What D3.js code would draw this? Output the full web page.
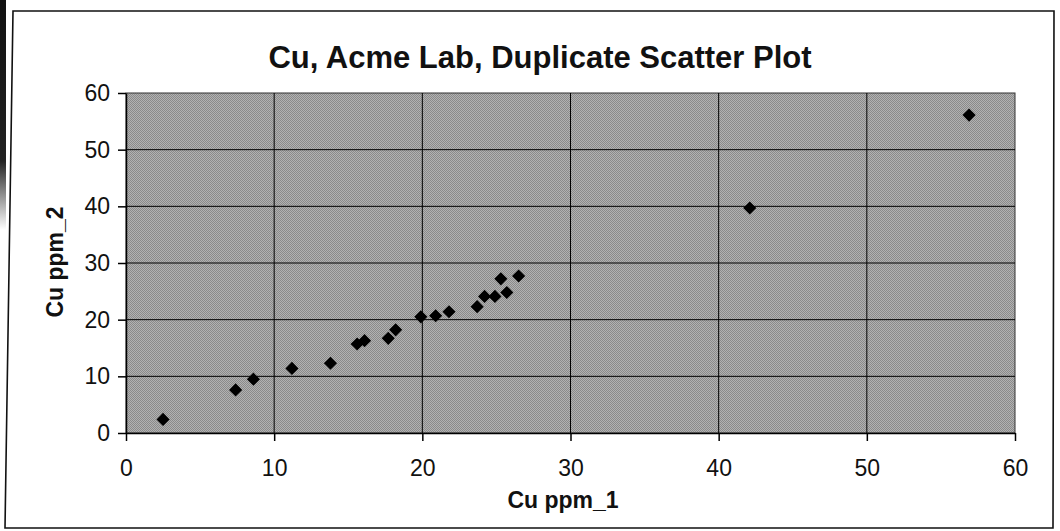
<!DOCTYPE html>
<html><head><meta charset="utf-8">
<script src="https://cdn.jsdelivr.net/npm/d3@7"></script>
<style>html,body{margin:0;padding:0;background:#fff;}svg{display:block;}</style>
</head><body>
<script>
const title = "Cu, Acme Lab, Duplicate Scatter Plot";
const xTitle = "Cu ppm_1";
const yTitle = "Cu ppm_2";
const xTicks = [0, 10, 20, 30, 40, 50, 60];
const yTicks = [0, 10, 20, 30, 40, 50, 60];
const cuPpm1 = [2.5, 7.4, 8.6, 11.2, 13.8, 15.6, 16.1, 17.7, 18.2, 19.9, 20.9, 21.8, 23.7, 24.2, 24.9, 25.7, 25.3, 26.5, 42.1, 56.9];
const cuPpm2 = [2.4, 7.6, 9.5, 11.4, 12.3, 15.7, 16.3, 16.7, 18.2, 20.5, 20.7, 21.4, 22.3, 24.1, 24.1, 24.8, 27.2, 27.7, 39.7, 56.1];

const W = 1060, H = 531;
const L = 126, R = 1015, T = 93, B = 433;
const svg = d3.select("body").append("svg").attr("width", W).attr("height", H);
const font = "'Liberation Sans', Arial, sans-serif";
const defs = svg.append("defs");

// scan artifact: dark bar on left edge
const grad = defs.append("linearGradient").attr("id","bar").attr("x1",0).attr("x2",0).attr("y1",0).attr("y2",1);
grad.append("stop").attr("offset","0%").attr("stop-color","#111");
grad.append("stop").attr("offset","70%").attr("stop-color","#222");
grad.append("stop").attr("offset","100%").attr("stop-color","#fff");
svg.append("rect").attr("x",0).attr("y",0).attr("width",6).attr("height",230).attr("fill","url(#bar)");

// halftone pattern for plot area
const pat = defs.append("pattern").attr("id","dots").attr("width",2).attr("height",2).attr("patternUnits","userSpaceOnUse");
pat.append("rect").attr("width",2).attr("height",2).attr("fill","#b2b2b2");
pat.append("rect").attr("width",1).attr("height",1).attr("fill","#8a8a8a");
pat.append("rect").attr("x",1).attr("y",1).attr("width",1).attr("height",1).attr("fill","#8a8a8a");

// outer frame (slightly skewed as scanned)
svg.append("path").attr("d","M13,11 L1054,11 L1053,528 L5,528 Z")
  .attr("fill","none").attr("stroke","#111").attr("stroke-width",1.6);

const x = d3.scaleLinear().domain([0, 60]).range([L, R]);
const y = d3.scaleLinear().domain([0, 60]).range([B, T]);

svg.append("rect").attr("x",L).attr("y",T).attr("width",R-L).attr("height",B-T)
  .attr("fill","url(#dots)").attr("stroke","#333").attr("stroke-width",1);

// gridlines
svg.append("g").selectAll("line").data(xTicks.filter(d => d > 0 && d < 60)).join("line")
  .attr("x1", d => x(d)).attr("x2", d => x(d)).attr("y1", T).attr("y2", B)
  .attr("stroke","#000").attr("stroke-width",1);
svg.append("g").selectAll("line").data(yTicks.filter(d => d > 0 && d < 60)).join("line")
  .attr("y1", d => y(d)).attr("y2", d => y(d)).attr("x1", L).attr("x2", R)
  .attr("stroke","#000").attr("stroke-width",1);

// axes
const xAxis = svg.append("g").attr("transform", `translate(0,${B})`)
  .call(d3.axisBottom(x).tickValues(xTicks).tickSize(8).tickPadding(19).tickSizeOuter(0));
const yAxis = svg.append("g").attr("transform", `translate(${L},0)`)
  .call(d3.axisLeft(y).tickValues(yTicks).tickSize(8).tickPadding(8).tickSizeOuter(0));
[xAxis, yAxis].forEach(a => {
  a.select(".domain").attr("stroke","#000").attr("stroke-width",1.5);
  a.selectAll(".tick line").attr("stroke","#000").attr("stroke-width",1.5);
  a.selectAll(".tick text").attr("fill","#111").style("font-family", font).style("font-size","23px");
});

// markers
const pts = cuPpm1.map((v, i) => [v, cuPpm2[i]]);
svg.append("g").selectAll("path").data(pts).join("path")
  .attr("transform", d => `translate(${x(d[0])},${y(d[1])})`)
  .attr("d", d3.symbol().type(d3.symbolDiamond2).size(110))
  .attr("fill","#000");

// titles
svg.append("text").attr("x", 540).attr("y", 68).attr("text-anchor","middle")
  .style("font-family", font).style("font-weight","bold").style("font-size","31px").attr("fill","#111").text(title);
svg.append("text").attr("x", 563).attr("y", 508).attr("text-anchor","middle")
  .style("font-family", font).style("font-weight","bold").style("font-size","23px").attr("fill","#111").text(xTitle);
svg.append("text").attr("transform","translate(63,262) rotate(-90)").attr("text-anchor","middle")
  .style("font-family", font).style("font-weight","bold").style("font-size","23px").attr("fill","#111").text(yTitle);
</script>
</body></html>
